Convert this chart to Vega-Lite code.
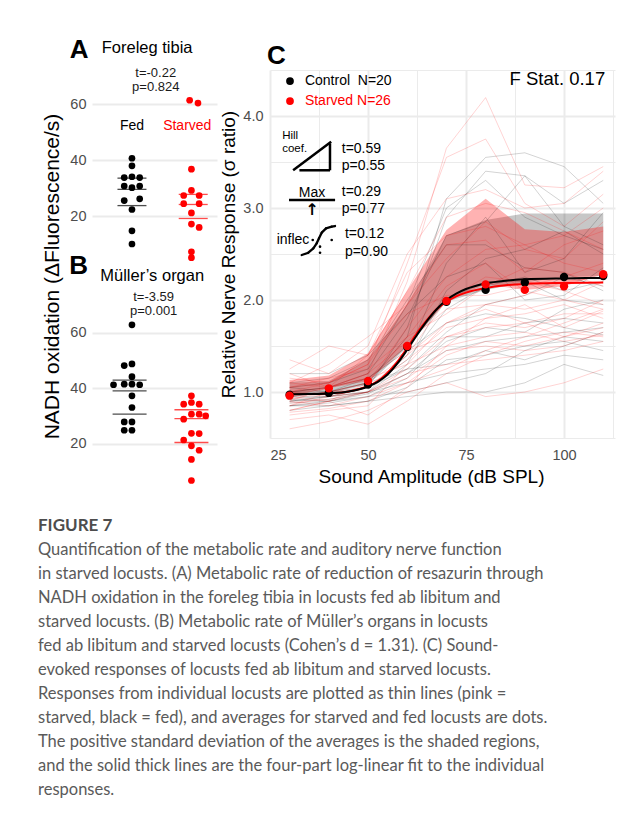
{
"$schema": "https://vega.github.io/schema/vega-lite/v6.json",
"background": "white",
"padding": {"left": 38, "top": 37, "right": 5, "bottom": 5},
"config": {
  "view": {"stroke": null},
  "font": "Liberation Sans",
  "text": {"font": "Liberation Sans"},
  "axis": {"domain": false, "ticks": false, "gridColor": "#EBEBEB", "gridWidth": 2, "labelColor": "#4D4D4D", "labelFontSize": 14.5, "labelFont": "Liberation Sans", "titleFont": "Liberation Sans", "titleFontWeight": "normal", "titleColor": "#000000", "titleFontSize": 19}
},
"title": {
  "text": "FIGURE 7",
  "subtitle": [
    "Quantification of the metabolic rate and auditory nerve function",
    "in starved locusts. (A) Metabolic rate of reduction of resazurin through",
    "NADH oxidation in the foreleg tibia in locusts fed ab libitum and",
    "starved locusts. (B) Metabolic rate of Müller’s organs in locusts",
    "fed ab libitum and starved locusts (Cohen’s d = 1.31). (C) Sound-",
    "evoked responses of locusts fed ab libitum and starved locusts.",
    "Responses from individual locusts are plotted as thin lines (pink =",
    "starved, black = fed), and averages for starved and fed locusts are dots.",
    "The positive standard deviation of the averages is the shaded regions,",
    "and the solid thick lines are the four-part log-linear fit to the individual",
    "responses."
  ],
  "orient": "bottom", "anchor": "start", "frame": "group", "dx": -54, "offset": 30,
  "font": "Lato", "fontSize": 17, "fontWeight": "bold", "color": "#4d4d4d",
  "subtitleFont": "Lato", "subtitleFontSize": 16.5, "subtitleColor": "#5a5a5a", "subtitleLineHeight": 24, "subtitlePadding": 7
},
"datasets": {
  "a": [
    {"g":"Fed","x":1,"v":40.7},{"g":"Fed","x":1,"v":38.0},{"g":"Fed","x":0.87,"v":33.8},{"g":"Fed","x":1,"v":34.1},{"g":"Fed","x":1.13,"v":33.8},
    {"g":"Fed","x":0.87,"v":30.8},{"g":"Fed","x":1,"v":30.2},{"g":"Fed","x":1.13,"v":30.8},{"g":"Fed","x":0.87,"v":25.6},{"g":"Fed","x":1.13,"v":26.2},
    {"g":"Fed","x":1,"v":22.4},{"g":"Fed","x":1,"v":14.8},{"g":"Fed","x":1,"v":10.1},
    {"g":"Starved","x":1.97,"v":61.4},{"g":"Starved","x":2.11,"v":60.4},{"g":"Starved","x":2,"v":36.8},{"g":"Starved","x":2,"v":29.2},
    {"g":"Starved","x":1.87,"v":27.4},{"g":"Starved","x":2.13,"v":27.4},{"g":"Starved","x":1.87,"v":24.5},{"g":"Starved","x":2.13,"v":24.5},
    {"g":"Starved","x":2,"v":21.2},{"g":"Starved","x":2,"v":17.2},{"g":"Starved","x":2.13,"v":16.0},{"g":"Starved","x":2,"v":7.3},{"g":"Starved","x":2,"v":5.2}
  ],
  "aStat": [
    {"g":"Fed","x":1,"v":33.6},{"g":"Fed","x":1,"v":29.6},{"g":"Fed","x":1,"v":23.8},
    {"g":"Starved","x":2.03,"v":27.8},{"g":"Starved","x":2.03,"v":24.2},{"g":"Starved","x":2.03,"v":19.2}
  ],
  "b": [
    {"g":"Fed","x":1,"v":62.8},{"g":"Fed","x":0.87,"v":48.1},{"g":"Fed","x":1,"v":48.7},{"g":"Fed","x":1,"v":44.1},
    {"g":"Fed","x":0.69,"v":41.2},{"g":"Fed","x":0.87,"v":41.4},{"g":"Fed","x":1,"v":41.4},{"g":"Fed","x":1.13,"v":41.2},
    {"g":"Fed","x":1,"v":37.2},{"g":"Fed","x":1,"v":33.0},{"g":"Fed","x":0.87,"v":27.8},{"g":"Fed","x":1,"v":27.8},
    {"g":"Fed","x":0.87,"v":24.8},{"g":"Fed","x":1,"v":24.8},
    {"g":"Starved","x":2,"v":37.2},{"g":"Starved","x":1.87,"v":34.2},{"g":"Starved","x":2,"v":34.8},{"g":"Starved","x":2.13,"v":34.2},
    {"g":"Starved","x":2,"v":30.6},{"g":"Starved","x":2.13,"v":30.6},{"g":"Starved","x":2.24,"v":30.0},{"g":"Starved","x":1.87,"v":28.8},
    {"g":"Starved","x":2,"v":23.7},{"g":"Starved","x":2.13,"v":23.6},{"g":"Starved","x":1.87,"v":21.3},{"g":"Starved","x":2,"v":19.2},
    {"g":"Starved","x":2.13,"v":17.6},{"g":"Starved","x":2,"v":14.3},{"g":"Starved","x":2,"v":6.7}
  ],
  "bStat": [
    {"g":"Fed","x":0.96,"v":42.9},{"g":"Fed","x":0.96,"v":39.0},{"g":"Fed","x":0.96,"v":30.6},
    {"g":"Starved","x":2,"v":32.2},{"g":"Starved","x":2,"v":29.0},{"g":"Starved","x":2,"v":20.4}
  ],
  "means": [
    {"g":"C","x":30,"v":0.97},{"g":"C","x":40,"v":0.99},{"g":"C","x":50,"v":1.08},{"g":"C","x":60,"v":1.49},{"g":"C","x":70,"v":1.98},
    {"g":"C","x":80,"v":2.11},{"g":"C","x":90,"v":2.19},{"g":"C","x":100,"v":2.25},{"g":"C","x":110,"v":2.26},
    {"g":"S","x":30,"v":0.96},{"g":"S","x":40,"v":1.04},{"g":"S","x":50,"v":1.12},{"g":"S","x":60,"v":1.50},{"g":"S","x":70,"v":1.99},
    {"g":"S","x":80,"v":2.17},{"g":"S","x":90,"v":2.11},{"g":"S","x":100,"v":2.15},{"g":"S","x":110,"v":2.28}
  ],
  "sd": [
    {"g":"C","x":30,"lo":0.97,"hi":1.10},{"g":"C","x":40,"lo":0.99,"hi":1.12},{"g":"C","x":50,"lo":1.08,"hi":1.35},{"g":"C","x":60,"lo":1.49,"hi":1.95},
    {"g":"C","x":70,"lo":1.98,"hi":2.70},{"g":"C","x":80,"lo":2.11,"hi":2.87},{"g":"C","x":90,"lo":2.19,"hi":2.94},{"g":"C","x":100,"lo":2.25,"hi":2.94},{"g":"C","x":110,"lo":2.26,"hi":2.94},
    {"g":"S","x":30,"lo":0.96,"hi":1.13},{"g":"S","x":40,"lo":1.04,"hi":1.18},{"g":"S","x":50,"lo":1.12,"hi":1.42},{"g":"S","x":60,"lo":1.50,"hi":2.10},
    {"g":"S","x":70,"lo":1.99,"hi":2.76},{"g":"S","x":80,"lo":2.17,"hi":3.10},{"g":"S","x":90,"lo":2.11,"hi":2.77},{"g":"S","x":100,"lo":2.15,"hi":2.74},{"g":"S","x":110,"lo":2.28,"hi":2.80}
  ],
  "fit": [
    {"g":"C","x":30,"v":0.975},{"g":"C","x":35,"v":0.978},{"g":"C","x":40,"v":0.985},{"g":"C","x":45,"v":1.005},{"g":"C","x":50,"v":1.06},
    {"g":"C","x":52.5,"v":1.11},{"g":"C","x":55,"v":1.19},{"g":"C","x":57.5,"v":1.31},{"g":"C","x":60,"v":1.46},{"g":"C","x":62.5,"v":1.62},
    {"g":"C","x":65,"v":1.77},{"g":"C","x":67.5,"v":1.90},{"g":"C","x":70,"v":2.00},{"g":"C","x":72.5,"v":2.07},{"g":"C","x":75,"v":2.12},
    {"g":"C","x":80,"v":2.18},{"g":"C","x":85,"v":2.21},{"g":"C","x":90,"v":2.225},{"g":"C","x":100,"v":2.235},{"g":"C","x":110,"v":2.24},
    {"g":"S","x":30,"v":0.975},{"g":"S","x":35,"v":0.978},{"g":"S","x":40,"v":0.985},{"g":"S","x":45,"v":1.005},{"g":"S","x":50,"v":1.065},
    {"g":"S","x":52.5,"v":1.12},{"g":"S","x":55,"v":1.21},{"g":"S","x":57.5,"v":1.33},{"g":"S","x":60,"v":1.48},{"g":"S","x":62.5,"v":1.64},
    {"g":"S","x":65,"v":1.78},{"g":"S","x":67.5,"v":1.90},{"g":"S","x":70,"v":1.98},{"g":"S","x":72.5,"v":2.04},{"g":"S","x":75,"v":2.08},
    {"g":"S","x":80,"v":2.13},{"g":"S","x":85,"v":2.16},{"g":"S","x":90,"v":2.175},{"g":"S","x":100,"v":2.185},{"g":"S","x":110,"v":2.19}
  ],
  "lines": [
    {"g":"C","id":"c1","x":30,"y":0.95},{"g":"C","id":"c1","x":40,"y":1.00},{"g":"C","id":"c1","x":50,"y":1.10},{"g":"C","id":"c1","x":60,"y":1.60},{"g":"C","id":"c1","x":70,"y":3.10},{"g":"C","id":"c1","x":80,"y":3.55},{"g":"C","id":"c1","x":90,"y":3.60},{"g":"C","id":"c1","x":100,"y":3.45},{"g":"C","id":"c1","x":110,"y":3.05},
    {"g":"C","id":"c2","x":30,"y":0.90},{"g":"C","id":"c2","x":40,"y":0.95},{"g":"C","id":"c2","x":50,"y":1.05},{"g":"C","id":"c2","x":60,"y":1.70},{"g":"C","id":"c2","x":70,"y":2.90},{"g":"C","id":"c2","x":80,"y":3.40},{"g":"C","id":"c2","x":90,"y":3.35},{"g":"C","id":"c2","x":100,"y":3.05},{"g":"C","id":"c2","x":110,"y":3.30},
    {"g":"C","id":"c3","x":30,"y":1.05},{"g":"C","id":"c3","x":40,"y":1.10},{"g":"C","id":"c3","x":50,"y":1.25},{"g":"C","id":"c3","x":60,"y":1.95},{"g":"C","id":"c3","x":70,"y":3.00},{"g":"C","id":"c3","x":80,"y":3.30},{"g":"C","id":"c3","x":90,"y":2.90},{"g":"C","id":"c3","x":100,"y":2.70},{"g":"C","id":"c3","x":110,"y":2.55},
    {"g":"C","id":"c4","x":30,"y":1.00},{"g":"C","id":"c4","x":40,"y":1.05},{"g":"C","id":"c4","x":50,"y":1.20},{"g":"C","id":"c4","x":60,"y":1.80},{"g":"C","id":"c4","x":70,"y":2.70},{"g":"C","id":"c4","x":80,"y":2.85},{"g":"C","id":"c4","x":90,"y":3.35},{"g":"C","id":"c4","x":100,"y":2.80},{"g":"C","id":"c4","x":110,"y":2.60},
    {"g":"C","id":"c5","x":30,"y":0.85},{"g":"C","id":"c5","x":40,"y":0.90},{"g":"C","id":"c5","x":50,"y":1.00},{"g":"C","id":"c5","x":60,"y":1.40},{"g":"C","id":"c5","x":70,"y":2.40},{"g":"C","id":"c5","x":80,"y":2.90},{"g":"C","id":"c5","x":90,"y":2.30},{"g":"C","id":"c5","x":100,"y":2.45},{"g":"C","id":"c5","x":110,"y":2.95},
    {"g":"C","id":"c6","x":30,"y":1.10},{"g":"C","id":"c6","x":40,"y":1.15},{"g":"C","id":"c6","x":50,"y":1.35},{"g":"C","id":"c6","x":60,"y":2.00},{"g":"C","id":"c6","x":70,"y":2.60},{"g":"C","id":"c6","x":80,"y":2.60},{"g":"C","id":"c6","x":90,"y":2.35},{"g":"C","id":"c6","x":100,"y":2.30},{"g":"C","id":"c6","x":110,"y":2.10},
    {"g":"C","id":"c7","x":30,"y":0.90},{"g":"C","id":"c7","x":40,"y":0.92},{"g":"C","id":"c7","x":50,"y":1.00},{"g":"C","id":"c7","x":60,"y":1.30},{"g":"C","id":"c7","x":70,"y":2.10},{"g":"C","id":"c7","x":80,"y":2.45},{"g":"C","id":"c7","x":90,"y":2.55},{"g":"C","id":"c7","x":100,"y":2.75},{"g":"C","id":"c7","x":110,"y":2.50},
    {"g":"C","id":"c8","x":30,"y":0.95},{"g":"C","id":"c8","x":40,"y":1.00},{"g":"C","id":"c8","x":50,"y":1.05},{"g":"C","id":"c8","x":60,"y":1.35},{"g":"C","id":"c8","x":70,"y":1.90},{"g":"C","id":"c8","x":80,"y":2.15},{"g":"C","id":"c8","x":90,"y":2.25},{"g":"C","id":"c8","x":100,"y":2.10},{"g":"C","id":"c8","x":110,"y":2.20},
    {"g":"C","id":"c9","x":30,"y":1.20},{"g":"C","id":"c9","x":40,"y":1.20},{"g":"C","id":"c9","x":50,"y":1.40},{"g":"C","id":"c9","x":60,"y":1.85},{"g":"C","id":"c9","x":70,"y":2.25},{"g":"C","id":"c9","x":80,"y":2.40},{"g":"C","id":"c9","x":90,"y":2.00},{"g":"C","id":"c9","x":100,"y":2.05},{"g":"C","id":"c9","x":110,"y":2.35},
    {"g":"C","id":"c10","x":30,"y":0.85},{"g":"C","id":"c10","x":40,"y":0.88},{"g":"C","id":"c10","x":50,"y":0.95},{"g":"C","id":"c10","x":60,"y":1.15},{"g":"C","id":"c10","x":70,"y":1.60},{"g":"C","id":"c10","x":80,"y":1.60},{"g":"C","id":"c10","x":90,"y":1.75},{"g":"C","id":"c10","x":100,"y":1.80},{"g":"C","id":"c10","x":110,"y":1.75},
    {"g":"C","id":"c11","x":30,"y":0.95},{"g":"C","id":"c11","x":40,"y":0.95},{"g":"C","id":"c11","x":50,"y":1.00},{"g":"C","id":"c11","x":60,"y":1.20},{"g":"C","id":"c11","x":70,"y":1.45},{"g":"C","id":"c11","x":80,"y":1.55},{"g":"C","id":"c11","x":90,"y":1.60},{"g":"C","id":"c11","x":100,"y":1.65},{"g":"C","id":"c11","x":110,"y":1.70},
    {"g":"C","id":"c12","x":30,"y":0.80},{"g":"C","id":"c12","x":40,"y":0.85},{"g":"C","id":"c12","x":50,"y":0.90},{"g":"C","id":"c12","x":60,"y":1.05},{"g":"C","id":"c12","x":70,"y":1.35},{"g":"C","id":"c12","x":80,"y":1.40},{"g":"C","id":"c12","x":90,"y":1.50},{"g":"C","id":"c12","x":100,"y":1.55},{"g":"C","id":"c12","x":110,"y":1.45},
    {"g":"C","id":"c13","x":30,"y":1.00},{"g":"C","id":"c13","x":40,"y":1.00},{"g":"C","id":"c13","x":50,"y":1.10},{"g":"C","id":"c13","x":60,"y":1.25},{"g":"C","id":"c13","x":70,"y":1.30},{"g":"C","id":"c13","x":80,"y":1.45},{"g":"C","id":"c13","x":90,"y":1.35},{"g":"C","id":"c13","x":100,"y":1.50},{"g":"C","id":"c13","x":110,"y":1.65},
    {"g":"C","id":"c14","x":30,"y":0.90},{"g":"C","id":"c14","x":40,"y":0.95},{"g":"C","id":"c14","x":50,"y":1.00},{"g":"C","id":"c14","x":60,"y":1.10},{"g":"C","id":"c14","x":70,"y":1.20},{"g":"C","id":"c14","x":80,"y":1.25},{"g":"C","id":"c14","x":90,"y":1.30},{"g":"C","id":"c14","x":100,"y":1.40},{"g":"C","id":"c14","x":110,"y":1.35},
    {"g":"C","id":"c15","x":30,"y":0.85},{"g":"C","id":"c15","x":40,"y":0.85},{"g":"C","id":"c15","x":50,"y":0.90},{"g":"C","id":"c15","x":60,"y":0.95},{"g":"C","id":"c15","x":70,"y":1.00},{"g":"C","id":"c15","x":80,"y":1.00},{"g":"C","id":"c15","x":90,"y":1.10},{"g":"C","id":"c15","x":100,"y":1.30},{"g":"C","id":"c15","x":110,"y":1.18},
    {"g":"C","id":"c16","x":30,"y":0.92},{"g":"C","id":"c16","x":40,"y":0.90},{"g":"C","id":"c16","x":50,"y":0.95},{"g":"C","id":"c16","x":60,"y":1.00},{"g":"C","id":"c16","x":70,"y":1.10},{"g":"C","id":"c16","x":80,"y":1.20},{"g":"C","id":"c16","x":90,"y":1.45},{"g":"C","id":"c16","x":100,"y":1.60},{"g":"C","id":"c16","x":110,"y":1.55},
    {"g":"C","id":"c17","x":30,"y":1.05},{"g":"C","id":"c17","x":40,"y":1.00},{"g":"C","id":"c17","x":50,"y":1.15},{"g":"C","id":"c17","x":60,"y":1.45},{"g":"C","id":"c17","x":70,"y":1.75},{"g":"C","id":"c17","x":80,"y":1.85},{"g":"C","id":"c17","x":90,"y":1.80},{"g":"C","id":"c17","x":100,"y":1.70},{"g":"C","id":"c17","x":110,"y":1.62},
    {"g":"C","id":"c18","x":30,"y":0.88},{"g":"C","id":"c18","x":40,"y":0.90},{"g":"C","id":"c18","x":50,"y":0.98},{"g":"C","id":"c18","x":60,"y":1.20},{"g":"C","id":"c18","x":70,"y":1.55},{"g":"C","id":"c18","x":80,"y":1.70},{"g":"C","id":"c18","x":90,"y":1.65},{"g":"C","id":"c18","x":100,"y":1.90},{"g":"C","id":"c18","x":110,"y":2.00},
    {"g":"C","id":"c19","x":30,"y":1.00},{"g":"C","id":"c19","x":40,"y":1.05},{"g":"C","id":"c19","x":50,"y":1.15},{"g":"C","id":"c19","x":60,"y":1.50},{"g":"C","id":"c19","x":70,"y":2.00},{"g":"C","id":"c19","x":80,"y":2.20},{"g":"C","id":"c19","x":90,"y":2.20},{"g":"C","id":"c19","x":100,"y":2.00},{"g":"C","id":"c19","x":110,"y":1.95},
    {"g":"C","id":"c20","x":30,"y":0.93},{"g":"C","id":"c20","x":40,"y":0.95},{"g":"C","id":"c20","x":50,"y":1.05},{"g":"C","id":"c20","x":60,"y":1.25},{"g":"C","id":"c20","x":70,"y":1.65},{"g":"C","id":"c20","x":80,"y":1.95},{"g":"C","id":"c20","x":90,"y":2.05},{"g":"C","id":"c20","x":100,"y":2.25},{"g":"C","id":"c20","x":110,"y":2.15},
    {"g":"S","id":"s1","x":30,"y":0.95},{"g":"S","id":"s1","x":40,"y":1.05},{"g":"S","id":"s1","x":50,"y":1.20},{"g":"S","id":"s1","x":60,"y":2.20},{"g":"S","id":"s1","x":70,"y":3.65},{"g":"S","id":"s1","x":80,"y":4.20},{"g":"S","id":"s1","x":90,"y":3.25},{"g":"S","id":"s1","x":100,"y":3.22},{"g":"S","id":"s1","x":110,"y":3.45},
    {"g":"S","id":"s2","x":30,"y":1.00},{"g":"S","id":"s2","x":40,"y":1.10},{"g":"S","id":"s2","x":50,"y":1.30},{"g":"S","id":"s2","x":60,"y":2.40},{"g":"S","id":"s2","x":70,"y":3.55},{"g":"S","id":"s2","x":80,"y":3.75},{"g":"S","id":"s2","x":90,"y":3.05},{"g":"S","id":"s2","x":100,"y":2.80},{"g":"S","id":"s2","x":110,"y":3.15},
    {"g":"S","id":"s3","x":30,"y":1.35},{"g":"S","id":"s3","x":40,"y":1.20},{"g":"S","id":"s3","x":50,"y":1.50},{"g":"S","id":"s3","x":60,"y":2.50},{"g":"S","id":"s3","x":70,"y":3.10},{"g":"S","id":"s3","x":80,"y":3.20},{"g":"S","id":"s3","x":90,"y":3.00},{"g":"S","id":"s3","x":100,"y":3.05},{"g":"S","id":"s3","x":110,"y":3.40},
    {"g":"S","id":"s4","x":30,"y":0.90},{"g":"S","id":"s4","x":40,"y":1.05},{"g":"S","id":"s4","x":50,"y":1.40},{"g":"S","id":"s4","x":60,"y":2.10},{"g":"S","id":"s4","x":70,"y":2.90},{"g":"S","id":"s4","x":80,"y":3.05},{"g":"S","id":"s4","x":90,"y":2.95},{"g":"S","id":"s4","x":100,"y":2.75},{"g":"S","id":"s4","x":110,"y":2.55},
    {"g":"S","id":"s5","x":30,"y":1.25},{"g":"S","id":"s5","x":40,"y":1.50},{"g":"S","id":"s5","x":50,"y":1.40},{"g":"S","id":"s5","x":60,"y":2.30},{"g":"S","id":"s5","x":70,"y":2.70},{"g":"S","id":"s5","x":80,"y":2.80},{"g":"S","id":"s5","x":90,"y":2.60},{"g":"S","id":"s5","x":100,"y":2.70},{"g":"S","id":"s5","x":110,"y":3.00},
    {"g":"S","id":"s6","x":30,"y":1.10},{"g":"S","id":"s6","x":40,"y":1.30},{"g":"S","id":"s6","x":50,"y":1.60},{"g":"S","id":"s6","x":60,"y":1.95},{"g":"S","id":"s6","x":70,"y":2.45},{"g":"S","id":"s6","x":80,"y":2.85},{"g":"S","id":"s6","x":90,"y":2.55},{"g":"S","id":"s6","x":100,"y":2.45},{"g":"S","id":"s6","x":110,"y":2.85},
    {"g":"S","id":"s7","x":30,"y":0.80},{"g":"S","id":"s7","x":40,"y":0.90},{"g":"S","id":"s7","x":50,"y":1.10},{"g":"S","id":"s7","x":60,"y":1.70},{"g":"S","id":"s7","x":70,"y":2.25},{"g":"S","id":"s7","x":80,"y":2.55},{"g":"S","id":"s7","x":90,"y":2.60},{"g":"S","id":"s7","x":100,"y":2.40},{"g":"S","id":"s7","x":110,"y":2.30},
    {"g":"S","id":"s8","x":30,"y":1.05},{"g":"S","id":"s8","x":40,"y":1.15},{"g":"S","id":"s8","x":50,"y":1.25},{"g":"S","id":"s8","x":60,"y":1.60},{"g":"S","id":"s8","x":70,"y":2.15},{"g":"S","id":"s8","x":80,"y":2.40},{"g":"S","id":"s8","x":90,"y":2.10},{"g":"S","id":"s8","x":100,"y":2.00},{"g":"S","id":"s8","x":110,"y":2.20},
    {"g":"S","id":"s9","x":30,"y":0.85},{"g":"S","id":"s9","x":40,"y":1.00},{"g":"S","id":"s9","x":50,"y":1.05},{"g":"S","id":"s9","x":60,"y":1.40},{"g":"S","id":"s9","x":70,"y":2.00},{"g":"S","id":"s9","x":80,"y":2.25},{"g":"S","id":"s9","x":90,"y":2.20},{"g":"S","id":"s9","x":100,"y":2.10},{"g":"S","id":"s9","x":110,"y":1.95},
    {"g":"S","id":"s10","x":30,"y":1.15},{"g":"S","id":"s10","x":40,"y":1.10},{"g":"S","id":"s10","x":50,"y":1.35},{"g":"S","id":"s10","x":60,"y":1.85},{"g":"S","id":"s10","x":70,"y":2.05},{"g":"S","id":"s10","x":80,"y":2.05},{"g":"S","id":"s10","x":90,"y":2.15},{"g":"S","id":"s10","x":100,"y":2.25},{"g":"S","id":"s10","x":110,"y":2.40},
    {"g":"S","id":"s11","x":30,"y":0.75},{"g":"S","id":"s11","x":40,"y":0.80},{"g":"S","id":"s11","x":50,"y":0.85},{"g":"S","id":"s11","x":60,"y":1.30},{"g":"S","id":"s11","x":70,"y":1.75},{"g":"S","id":"s11","x":80,"y":1.95},{"g":"S","id":"s11","x":90,"y":1.90},{"g":"S","id":"s11","x":100,"y":2.00},{"g":"S","id":"s11","x":110,"y":1.90},
    {"g":"S","id":"s12","x":30,"y":0.95},{"g":"S","id":"s12","x":40,"y":0.90},{"g":"S","id":"s12","x":50,"y":0.75},{"g":"S","id":"s12","x":60,"y":1.05},{"g":"S","id":"s12","x":70,"y":1.50},{"g":"S","id":"s12","x":80,"y":1.80},{"g":"S","id":"s12","x":90,"y":1.85},{"g":"S","id":"s12","x":100,"y":1.95},{"g":"S","id":"s12","x":110,"y":1.80},
    {"g":"S","id":"s13","x":30,"y":1.00},{"g":"S","id":"s13","x":40,"y":1.05},{"g":"S","id":"s13","x":50,"y":1.15},{"g":"S","id":"s13","x":60,"y":1.45},{"g":"S","id":"s13","x":70,"y":1.60},{"g":"S","id":"s13","x":80,"y":1.70},{"g":"S","id":"s13","x":90,"y":1.75},{"g":"S","id":"s13","x":100,"y":1.85},{"g":"S","id":"s13","x":110,"y":1.85},
    {"g":"S","id":"s14","x":30,"y":0.70},{"g":"S","id":"s14","x":40,"y":0.75},{"g":"S","id":"s14","x":50,"y":0.65},{"g":"S","id":"s14","x":60,"y":0.90},{"g":"S","id":"s14","x":70,"y":1.20},{"g":"S","id":"s14","x":80,"y":1.40},{"g":"S","id":"s14","x":90,"y":1.55},{"g":"S","id":"s14","x":100,"y":1.65},{"g":"S","id":"s14","x":110,"y":1.60},
    {"g":"S","id":"s15","x":30,"y":0.90},{"g":"S","id":"s15","x":40,"y":0.85},{"g":"S","id":"s15","x":50,"y":0.95},{"g":"S","id":"s15","x":60,"y":1.10},{"g":"S","id":"s15","x":70,"y":1.40},{"g":"S","id":"s15","x":80,"y":1.55},{"g":"S","id":"s15","x":90,"y":1.50},{"g":"S","id":"s15","x":100,"y":1.60},{"g":"S","id":"s15","x":110,"y":1.70},
    {"g":"S","id":"s16","x":30,"y":1.20},{"g":"S","id":"s16","x":40,"y":1.05},{"g":"S","id":"s16","x":50,"y":1.15},{"g":"S","id":"s16","x":60,"y":1.30},{"g":"S","id":"s16","x":70,"y":1.50},{"g":"S","id":"s16","x":80,"y":1.60},{"g":"S","id":"s16","x":90,"y":1.65},{"g":"S","id":"s16","x":100,"y":1.55},{"g":"S","id":"s16","x":110,"y":1.62},
    {"g":"S","id":"s17","x":30,"y":0.85},{"g":"S","id":"s17","x":40,"y":0.95},{"g":"S","id":"s17","x":50,"y":1.00},{"g":"S","id":"s17","x":60,"y":1.20},{"g":"S","id":"s17","x":70,"y":1.30},{"g":"S","id":"s17","x":80,"y":1.35},{"g":"S","id":"s17","x":90,"y":1.40},{"g":"S","id":"s17","x":100,"y":1.45},{"g":"S","id":"s17","x":110,"y":1.55},
    {"g":"S","id":"s18","x":30,"y":0.60},{"g":"S","id":"s18","x":40,"y":0.68},{"g":"S","id":"s18","x":50,"y":0.80},{"g":"S","id":"s18","x":60,"y":1.00},{"g":"S","id":"s18","x":70,"y":1.10},{"g":"S","id":"s18","x":80,"y":0.95},{"g":"S","id":"s18","x":90,"y":1.00},{"g":"S","id":"s18","x":100,"y":1.10},{"g":"S","id":"s18","x":110,"y":1.25},
    {"g":"S","id":"s19","x":30,"y":0.95},{"g":"S","id":"s19","x":40,"y":1.00},{"g":"S","id":"s19","x":50,"y":1.10},{"g":"S","id":"s19","x":60,"y":1.60},{"g":"S","id":"s19","x":70,"y":1.85},{"g":"S","id":"s19","x":80,"y":2.15},{"g":"S","id":"s19","x":90,"y":2.35},{"g":"S","id":"s19","x":100,"y":2.30},{"g":"S","id":"s19","x":110,"y":2.15},
    {"g":"S","id":"s20","x":30,"y":1.10},{"g":"S","id":"s20","x":40,"y":1.05},{"g":"S","id":"s20","x":50,"y":1.20},{"g":"S","id":"s20","x":60,"y":1.55},{"g":"S","id":"s20","x":70,"y":1.90},{"g":"S","id":"s20","x":80,"y":1.95},{"g":"S","id":"s20","x":90,"y":2.05},{"g":"S","id":"s20","x":100,"y":2.20},{"g":"S","id":"s20","x":110,"y":2.25},
    {"g":"S","id":"s21","x":30,"y":0.80},{"g":"S","id":"s21","x":40,"y":0.90},{"g":"S","id":"s21","x":50,"y":1.00},{"g":"S","id":"s21","x":60,"y":1.25},{"g":"S","id":"s21","x":70,"y":1.60},{"g":"S","id":"s21","x":80,"y":1.75},{"g":"S","id":"s21","x":90,"y":1.70},{"g":"S","id":"s21","x":100,"y":1.80},{"g":"S","id":"s21","x":110,"y":2.00},
    {"g":"S","id":"s22","x":30,"y":1.00},{"g":"S","id":"s22","x":40,"y":0.95},{"g":"S","id":"s22","x":50,"y":1.05},{"g":"S","id":"s22","x":60,"y":1.35},{"g":"S","id":"s22","x":70,"y":1.70},{"g":"S","id":"s22","x":80,"y":1.80},{"g":"S","id":"s22","x":90,"y":1.95},{"g":"S","id":"s22","x":100,"y":1.70},{"g":"S","id":"s22","x":110,"y":1.88},
    {"g":"S","id":"s23","x":30,"y":0.88},{"g":"S","id":"s23","x":40,"y":0.92},{"g":"S","id":"s23","x":50,"y":1.00},{"g":"S","id":"s23","x":60,"y":1.15},{"g":"S","id":"s23","x":70,"y":1.45},{"g":"S","id":"s23","x":80,"y":1.50},{"g":"S","id":"s23","x":90,"y":1.45},{"g":"S","id":"s23","x":100,"y":1.50},{"g":"S","id":"s23","x":110,"y":1.65},
    {"g":"S","id":"s24","x":30,"y":1.05},{"g":"S","id":"s24","x":40,"y":1.10},{"g":"S","id":"s24","x":50,"y":1.30},{"g":"S","id":"s24","x":60,"y":1.95},{"g":"S","id":"s24","x":70,"y":2.60},{"g":"S","id":"s24","x":80,"y":2.65},{"g":"S","id":"s24","x":90,"y":2.30},{"g":"S","id":"s24","x":100,"y":2.60},{"g":"S","id":"s24","x":110,"y":2.75},
    {"g":"S","id":"s25","x":30,"y":0.92},{"g":"S","id":"s25","x":40,"y":1.00},{"g":"S","id":"s25","x":50,"y":1.10},{"g":"S","id":"s25","x":60,"y":1.40},{"g":"S","id":"s25","x":70,"y":1.75},{"g":"S","id":"s25","x":80,"y":1.90},{"g":"S","id":"s25","x":90,"y":1.75},{"g":"S","id":"s25","x":100,"y":1.60},{"g":"S","id":"s25","x":110,"y":1.75},
    {"g":"S","id":"s26","x":30,"y":0.78},{"g":"S","id":"s26","x":40,"y":0.82},{"g":"S","id":"s26","x":50,"y":0.90},{"g":"S","id":"s26","x":60,"y":1.10},{"g":"S","id":"s26","x":70,"y":1.25},{"g":"S","id":"s26","x":80,"y":1.45},{"g":"S","id":"s26","x":90,"y":1.60},{"g":"S","id":"s26","x":100,"y":1.75},{"g":"S","id":"s26","x":110,"y":1.90}
  ]
},
"hconcat": [
  {
    "width": 125, "height": 418,
    "layer": [
      {"layer": [
        {"data": {"name": "aStat"}, "mark": {"type": "tick", "orient": "horizontal", "size": 29, "thickness": 1.3},
         "encoding": {
           "x": {"field": "x", "type": "quantitative", "scale": {"domain": [0.328, 2.43], "nice": false, "zero": false}, "axis": null},
           "y": {"field": "v", "type": "quantitative", "scale": {"domain": [-77, 72.2], "nice": false, "zero": false},
                 "axis": {"orient": "left", "values": [20, 40, 60], "grid": true, "labelPadding": 6, "title": "NADH oxidation (ΔFluorescence/s)", "titleFontSize": 21, "titleAngle": -90, "titleX": -40, "titleY": 206, "titleAlign": "center", "titleBaseline": "middle"}},
           "color": {"field": "g", "type": "nominal", "scale": {"domain": ["Fed", "Starved"], "range": ["#000000", "#FF0000"]}, "legend": null}}},
        {"data": {"name": "a"}, "mark": {"type": "circle", "size": 45, "opacity": 1},
         "encoding": {"x": {"field": "x", "type": "quantitative"}, "y": {"field": "v", "type": "quantitative"}, "color": {"field": "g", "type": "nominal"}}},
        {"data": {"values": [{}]}, "mark": {"type": "text", "text": "A", "fontSize": 26, "fontWeight": "bold", "baseline": "middle"},
         "encoding": {"x": {"datum": 0.113}, "y": {"datum": 79.3}}},
        {"data": {"values": [{}]}, "mark": {"type": "text", "text": "Foreleg tibia", "fontSize": 16.5, "baseline": "middle"},
         "encoding": {"x": {"datum": 1.255}, "y": {"datum": 80.0}}},
        {"data": {"values": [{}]}, "mark": {"type": "text", "text": "t=-0.22", "fontSize": 13, "baseline": "middle", "color": "#1a1a1a"},
         "encoding": {"x": {"datum": 1.40}, "y": {"datum": 71.1}}},
        {"data": {"values": [{}]}, "mark": {"type": "text", "text": "p=0.824", "fontSize": 13, "baseline": "middle", "color": "#1a1a1a"},
         "encoding": {"x": {"datum": 1.40}, "y": {"datum": 66.0}}},
        {"data": {"values": [{}]}, "mark": {"type": "text", "text": "Fed", "fontSize": 14, "baseline": "middle", "color": "#000000"},
         "encoding": {"x": {"datum": 1.0}, "y": {"datum": 52.2}}},
        {"data": {"values": [{}]}, "mark": {"type": "text", "text": "Starved", "fontSize": 14, "baseline": "middle", "color": "#FF0000"},
         "encoding": {"x": {"datum": 1.93}, "y": {"datum": 52.2}}}
      ]},
      {"layer": [
        {"data": {"name": "bStat"}, "mark": {"type": "tick", "orient": "horizontal", "size": 34, "thickness": 1.3},
         "encoding": {
           "x": {"field": "x", "type": "quantitative"},
           "y": {"field": "v", "type": "quantitative", "scale": {"domain": [4, 154.6], "nice": false, "zero": false},
                 "axis": {"orient": "left", "values": [20, 40, 60], "grid": true, "labelPadding": 6, "title": null}},
           "color": {"field": "g", "type": "nominal"}}},
        {"data": {"name": "b"}, "mark": {"type": "circle", "size": 45, "opacity": 1},
         "encoding": {"x": {"field": "x", "type": "quantitative"}, "y": {"field": "v", "type": "quantitative"}, "color": {"field": "g", "type": "nominal"}}},
        {"data": {"values": [{}]}, "mark": {"type": "text", "text": "B", "fontSize": 26, "fontWeight": "bold", "baseline": "middle"},
         "encoding": {"x": {"datum": 0.104}, "y": {"datum": 84.0}}},
        {"data": {"values": [{}]}, "mark": {"type": "text", "text": "Müller’s organ", "fontSize": 16.5, "baseline": "middle"},
         "encoding": {"x": {"datum": 1.34}, "y": {"datum": 80.4}}},
        {"data": {"values": [{}]}, "mark": {"type": "text", "text": "t=-3.59", "fontSize": 13, "baseline": "middle", "color": "#1a1a1a"},
         "encoding": {"x": {"datum": 1.365}, "y": {"datum": 72.7}}},
        {"data": {"values": [{}]}, "mark": {"type": "text", "text": "p=0.001", "fontSize": 13, "baseline": "middle", "color": "#1a1a1a"},
         "encoding": {"x": {"datum": 1.365}, "y": {"datum": 67.6}}}
      ]}
    ],
    "resolve": {"scale": {"y": "independent"}, "axis": {"y": "independent"}}
  },
  {
    "width": 345, "height": 368,
    "title": {"text": "C", "anchor": "start", "frame": "group", "fontSize": 26, "fontWeight": "bold", "dx": -3, "offset": 1},
    "layer": [
      {"data": {"name": "sd"}, "transform": [{"filter": "datum.g == 'C'"}], "mark": {"type": "area", "color": "#000000", "opacity": 0.22},
       "encoding": {
         "x": {"field": "x", "type": "quantitative", "scale": {"domain": [25, 113], "nice": false, "zero": false},
               "axis": {"values": [25, 37.5, 50, 62.5, 75, 87.5, 100, 112.5], "labelExpr": "datum.value % 25 === 0 ? datum.label : ''", "gridWidth": {"condition": {"test": "datum.value % 25 === 0", "value": 2}, "value": 1}, "grid": true, "labelPadding": 10, "title": "Sound Amplitude (dB SPL)", "titleX": 161, "titleY": 38, "titleAlign": "center", "titleBaseline": "middle"}},
         "y": {"field": "lo", "type": "quantitative", "scale": {"domain": [0.5, 4.5], "nice": false, "zero": false},
               "axis": {"values": [0.5, 1, 1.5, 2, 2.5, 3, 3.5, 4, 4.5], "format": ".1f", "labelExpr": "datum.value % 1 === 0 ? datum.label : ''", "gridWidth": {"condition": {"test": "datum.value % 1 === 0", "value": 2}, "value": 1}, "grid": true, "labelPadding": 7, "title": "Relative Nerve Response (σ ratio)", "titleAngle": -90, "titleX": -42, "titleY": 184, "titleAlign": "center", "titleBaseline": "middle"}},
         "y2": {"field": "hi"}}},
      {"data": {"name": "sd"}, "transform": [{"filter": "datum.g == 'S'"}], "mark": {"type": "area", "color": "#FF0000", "opacity": 0.3},
       "encoding": {"x": {"field": "x", "type": "quantitative"}, "y": {"field": "lo", "type": "quantitative"}, "y2": {"field": "hi"}}},
      {"data": {"name": "lines"}, "transform": [{"filter": "datum.g == 'C'"}], "mark": {"type": "line", "color": "#000000", "opacity": 0.22, "strokeWidth": 0.8},
       "encoding": {"x": {"field": "x", "type": "quantitative"}, "y": {"field": "y", "type": "quantitative"}, "detail": {"field": "id"}}},
      {"data": {"name": "lines"}, "transform": [{"filter": "datum.g == 'S'"}], "mark": {"type": "line", "color": "#FF0000", "opacity": 0.22, "strokeWidth": 0.8},
       "encoding": {"x": {"field": "x", "type": "quantitative"}, "y": {"field": "y", "type": "quantitative"}, "detail": {"field": "id"}}},
      {"data": {"name": "fit"}, "transform": [{"filter": "datum.g == 'S'"}], "mark": {"type": "line", "color": "#FF0000", "strokeWidth": 2, "interpolate": "monotone"},
       "encoding": {"x": {"field": "x", "type": "quantitative"}, "y": {"field": "v", "type": "quantitative"}}},
      {"data": {"name": "fit"}, "transform": [{"filter": "datum.g == 'C'"}], "mark": {"type": "line", "color": "#000000", "strokeWidth": 2, "interpolate": "monotone"},
       "encoding": {"x": {"field": "x", "type": "quantitative"}, "y": {"field": "v", "type": "quantitative"}}},
      {"data": {"name": "means"}, "transform": [{"filter": "datum.g == 'C'"}], "mark": {"type": "circle", "color": "#000000", "size": 70, "opacity": 1},
       "encoding": {"x": {"field": "x", "type": "quantitative"}, "y": {"field": "v", "type": "quantitative"}}},
      {"data": {"name": "means"}, "transform": [{"filter": "datum.g == 'S'"}], "mark": {"type": "circle", "color": "#FF0000", "size": 70, "opacity": 1},
       "encoding": {"x": {"field": "x", "type": "quantitative"}, "y": {"field": "v", "type": "quantitative"}}},
      {"data": {"values": [{}]}, "mark": {"type": "circle", "color": "#000000", "size": 60, "opacity": 1},
       "encoding": {"x": {"datum": 30.1}, "y": {"datum": 4.38}}},
      {"data": {"values": [{}]}, "mark": {"type": "circle", "color": "#FF0000", "size": 60, "opacity": 1},
       "encoding": {"x": {"datum": 30.1}, "y": {"datum": 4.163}}},
      {"data": {"values": [{}]}, "mark": {"type": "text", "text": "Control\u00a0 N=20", "fontSize": 14, "align": "left", "baseline": "middle", "color": "#000000"},
       "encoding": {"x": {"datum": 33.9}, "y": {"datum": 4.38}}},
      {"data": {"values": [{}]}, "mark": {"type": "text", "text": "Starved N=26", "fontSize": 14, "align": "left", "baseline": "middle", "color": "#FF0000"},
       "encoding": {"x": {"datum": 33.9}, "y": {"datum": 4.163}}},
      {"data": {"values": [{}]}, "mark": {"type": "text", "text": "F Stat. 0.17", "fontSize": 18.5, "align": "right", "baseline": "middle", "color": "#000000"},
       "encoding": {"x": {"datum": 110.5}, "y": {"datum": 4.40}}},
      {"data": {"values": [{}]}, "mark": {"type": "text", "text": "Hill", "fontSize": 11.5, "align": "left", "baseline": "middle"},
       "encoding": {"x": {"datum": 28.1}, "y": {"datum": 3.78}}},
      {"data": {"values": [{}]}, "mark": {"type": "text", "text": "coef.", "fontSize": 11.5, "align": "left", "baseline": "middle"},
       "encoding": {"x": {"datum": 28.1}, "y": {"datum": 3.645}}},
      {"data": {"values": [{}]}, "mark": {"type": "rule", "strokeWidth": 2.5, "color": "#000000"},
       "encoding": {"x": {"datum": 30.9}, "y": {"datum": 3.41}, "x2": {"datum": 40.6}, "y2": {"datum": 3.72}}},
      {"data": {"values": [{}]}, "mark": {"type": "rule", "strokeWidth": 2.5, "color": "#000000"},
       "encoding": {"x": {"datum": 40.3}, "y": {"datum": 3.41}, "x2": {"datum": 40.3}, "y2": {"datum": 3.70}}},
      {"data": {"values": [{}]}, "mark": {"type": "rule", "strokeWidth": 2.5, "color": "#000000"},
       "encoding": {"x": {"datum": 32.5}, "y": {"datum": 3.41}, "x2": {"datum": 40.3}, "y2": {"datum": 3.41}}},
      {"data": {"values": [{}]}, "mark": {"type": "text", "text": "t=0.59", "fontSize": 14, "align": "left", "baseline": "middle"},
       "encoding": {"x": {"datum": 43.3}, "y": {"datum": 3.645}}},
      {"data": {"values": [{}]}, "mark": {"type": "text", "text": "p=0.55", "fontSize": 14, "align": "left", "baseline": "middle"},
       "encoding": {"x": {"datum": 43.3}, "y": {"datum": 3.46}}},
      {"data": {"values": [{}]}, "mark": {"type": "text", "text": "Max", "fontSize": 14, "align": "center", "baseline": "middle"},
       "encoding": {"x": {"datum": 35.7}, "y": {"datum": 3.165}}},
      {"data": {"values": [{}]}, "mark": {"type": "rule", "strokeWidth": 2.5, "color": "#000000"},
       "encoding": {"x": {"datum": 29.85}, "y": {"datum": 3.087}, "x2": {"datum": 41.6}, "y2": {"datum": 3.087}}},
      {"data": {"values": [{}]}, "mark": {"type": "text", "text": "↑", "fontSize": 16, "fontWeight": "bold", "font": "DejaVu Sans", "align": "center", "baseline": "middle"},
       "encoding": {"x": {"datum": 35.7}, "y": {"datum": 2.98}}},
      {"data": {"values": [{}]}, "mark": {"type": "text", "text": "t=0.29", "fontSize": 14, "align": "left", "baseline": "middle"},
       "encoding": {"x": {"datum": 43.3}, "y": {"datum": 3.174}}},
      {"data": {"values": [{}]}, "mark": {"type": "text", "text": "p=0.77", "fontSize": 14, "align": "left", "baseline": "middle"},
       "encoding": {"x": {"datum": 43.3}, "y": {"datum": 2.986}}},
      {"data": {"values": [{}]}, "mark": {"type": "text", "text": "inflec", "fontSize": 14, "align": "left", "baseline": "middle"},
       "encoding": {"x": {"datum": 26.7}, "y": {"datum": 2.652}}},
      {"data": {"values": [{}]}, "mark": {"type": "rule", "strokeWidth": 2.3, "color": "#000000", "strokeCap": "round"},
       "encoding": {"x": {"datum": 33.09}, "y": {"datum": 2.489}, "x2": {"datum": 34.77}, "y2": {"datum": 2.514}}},
      {"data": {"values": [{}]}, "mark": {"type": "rule", "strokeWidth": 2.3, "color": "#000000", "strokeCap": "round"},
       "encoding": {"x": {"datum": 34.77}, "y": {"datum": 2.514}, "x2": {"datum": 36.05}, "y2": {"datum": 2.562}}},
      {"data": {"values": [{}]}, "mark": {"type": "rule", "strokeWidth": 2.3, "color": "#000000", "strokeCap": "round"},
       "encoding": {"x": {"datum": 36.05}, "y": {"datum": 2.562}, "x2": {"datum": 36.91}, "y2": {"datum": 2.616}}},
      {"data": {"values": [{}]}, "mark": {"type": "rule", "strokeWidth": 2.3, "color": "#000000", "strokeCap": "round"},
       "encoding": {"x": {"datum": 36.91}, "y": {"datum": 2.616}, "x2": {"datum": 37.50}, "y2": {"datum": 2.671}}},
      {"data": {"values": [{}]}, "mark": {"type": "rule", "strokeWidth": 2.3, "color": "#000000", "strokeCap": "round"},
       "encoding": {"x": {"datum": 37.50}, "y": {"datum": 2.671}, "x2": {"datum": 38.19}, "y2": {"datum": 2.732}}},
      {"data": {"values": [{}]}, "mark": {"type": "rule", "strokeWidth": 2.3, "color": "#000000", "strokeCap": "round"},
       "encoding": {"x": {"datum": 38.19}, "y": {"datum": 2.732}, "x2": {"datum": 39.29}, "y2": {"datum": 2.779}}},
      {"data": {"values": [{}]}, "mark": {"type": "rule", "strokeWidth": 2.3, "color": "#000000", "strokeCap": "round"},
       "encoding": {"x": {"datum": 39.29}, "y": {"datum": 2.779}, "x2": {"datum": 40.74}, "y2": {"datum": 2.797}}},
      {"data": {"values": [{}]}, "mark": {"type": "rule", "strokeWidth": 2.3, "color": "#000000", "strokeCap": "round"},
       "encoding": {"x": {"datum": 40.74}, "y": {"datum": 2.797}, "x2": {"datum": 41.58}, "y2": {"datum": 2.804}}},
      {"data": {"values": [{}]}, "mark": {"type": "circle", "color": "#000000", "size": 7, "opacity": 1},
       "encoding": {"x": {"datum": 35.9}, "y": {"datum": 2.652}}},
      {"data": {"values": [{}]}, "mark": {"type": "circle", "color": "#000000", "size": 7, "opacity": 1},
       "encoding": {"x": {"datum": 40.74}, "y": {"datum": 2.652}}},
      {"data": {"values": [{}]}, "mark": {"type": "circle", "color": "#000000", "size": 7, "opacity": 1},
       "encoding": {"x": {"datum": 37.76}, "y": {"datum": 2.58}}},
      {"data": {"values": [{}]}, "mark": {"type": "circle", "color": "#000000", "size": 7, "opacity": 1},
       "encoding": {"x": {"datum": 37.76}, "y": {"datum": 2.514}}},
      {"data": {"values": [{}]}, "mark": {"type": "text", "text": "t=0.12", "fontSize": 14, "align": "left", "baseline": "middle"},
       "encoding": {"x": {"datum": 44.1}, "y": {"datum": 2.717}}},
      {"data": {"values": [{}]}, "mark": {"type": "text", "text": "p=0.90", "fontSize": 14, "align": "left", "baseline": "middle"},
       "encoding": {"x": {"datum": 44.1}, "y": {"datum": 2.522}}}
    ]
  }
],
"spacing": 53,
"bounds": "flush"
}
